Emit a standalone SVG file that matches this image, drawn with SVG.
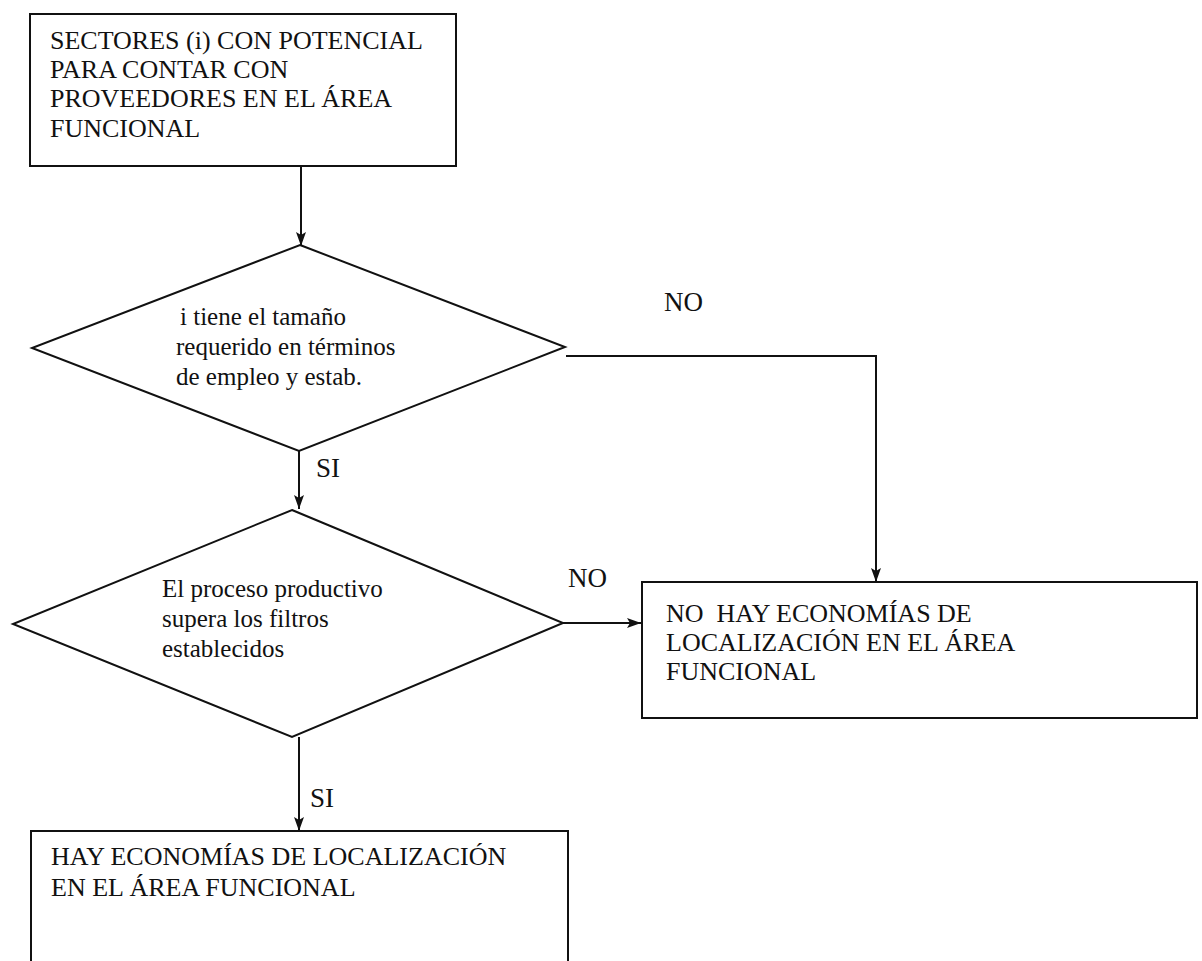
<svg xmlns="http://www.w3.org/2000/svg" width="1202" height="961" viewBox="0 0 1202 961">
  <defs>
    <style>
      .box { fill: #ffffff; stroke: #111111; stroke-width: 2; }
      .dec { fill: #ffffff; stroke: #111111; stroke-width: 2; stroke-linejoin: miter; }
      .txt { font-family: 'Liberation Serif', 'Times New Roman', Tinos, 'DejaVu Serif', serif; font-size: 26px; fill: #111111; }
      .small { font-size: 25px; }
      .lbl { font-family: 'Liberation Serif', 'Times New Roman', Tinos, 'DejaVu Serif', serif; font-size: 27px; fill: #111111; }
      .wire { fill: none; stroke: #111111; stroke-width: 2; }
    </style>
    <marker id="arrow" viewBox="0 0 14 10" refX="14" refY="5" markerWidth="14" markerHeight="10" markerUnits="userSpaceOnUse" orient="auto">
      <path d="M0,0 L14,5 L0,10 L3,5 z" fill="#111111"/>
    </marker>
  </defs>

  <rect width="1202" height="961" fill="#ffffff"/>

  <!-- connectors -->
  <g id="connectors">
    <line class="wire" x1="301" y1="166" x2="301" y2="246" marker-end="url(#arrow)"/>
    <polyline class="wire" points="566,356 876,356 876,582" marker-end="url(#arrow)"/>
    <line class="wire" x1="299" y1="451" x2="299" y2="509" marker-end="url(#arrow)"/>
    <line class="wire" x1="563" y1="623" x2="641" y2="623" marker-end="url(#arrow)"/>
    <line class="wire" x1="299" y1="737" x2="299" y2="831" marker-end="url(#arrow)"/>
    <text class="lbl" x="664" y="311">NO</text>
    <text class="lbl" x="316" y="477">SI</text>
    <text class="lbl" x="568" y="587">NO</text>
    <text class="lbl" x="310" y="807">SI</text>
  </g>

  <!-- start: sectors with potential suppliers -->
  <g id="sectores">
    <rect class="box" x="30" y="14" width="426" height="152"/>
    <text class="txt" x="50" y="49">SECTORES (i) CON POTENCIAL</text>
    <text class="txt" x="50" y="78">PARA CONTAR CON</text>
    <text class="txt" x="50" y="107">PROVEEDORES EN EL ÁREA</text>
    <text class="txt" x="50" y="137">FUNCIONAL</text>
  </g>

  <!-- decision: required size -->
  <g id="tamano">
    <polygon class="dec" points="300,245 565,347 299,451 32,348"/>
    <text class="txt small" x="180" y="325">i tiene el tamaño</text>
    <text class="txt small" x="176" y="355">requerido en términos</text>
    <text class="txt small" x="176" y="385">de empleo y estab.</text>
  </g>

  <!-- decision: production process filters -->
  <g id="filtros">
    <polygon class="dec" points="292,510 563,623 292,737 13,624"/>
    <text class="txt small" x="162" y="597">El proceso productivo</text>
    <text class="txt small" x="162" y="627">supera los filtros</text>
    <text class="txt small" x="162" y="657">establecidos</text>
  </g>

  <!-- outcome: no localization economies -->
  <g id="no-hay">
    <rect class="box" x="642" y="582" width="555" height="136"/>
    <text class="txt" x="666" y="622" xml:space="preserve">NO  HAY ECONOMÍAS DE</text>
    <text class="txt" x="666" y="651">LOCALIZACIÓN EN EL ÁREA</text>
    <text class="txt" x="666" y="680">FUNCIONAL</text>
  </g>

  <!-- outcome: localization economies -->
  <g id="hay">
    <rect class="box" x="31" y="831" width="537" height="150"/>
    <text class="txt" x="51" y="865">HAY ECONOMÍAS DE LOCALIZACIÓN</text>
    <text class="txt" x="51" y="896">EN EL ÁREA FUNCIONAL</text>
  </g>
</svg>
